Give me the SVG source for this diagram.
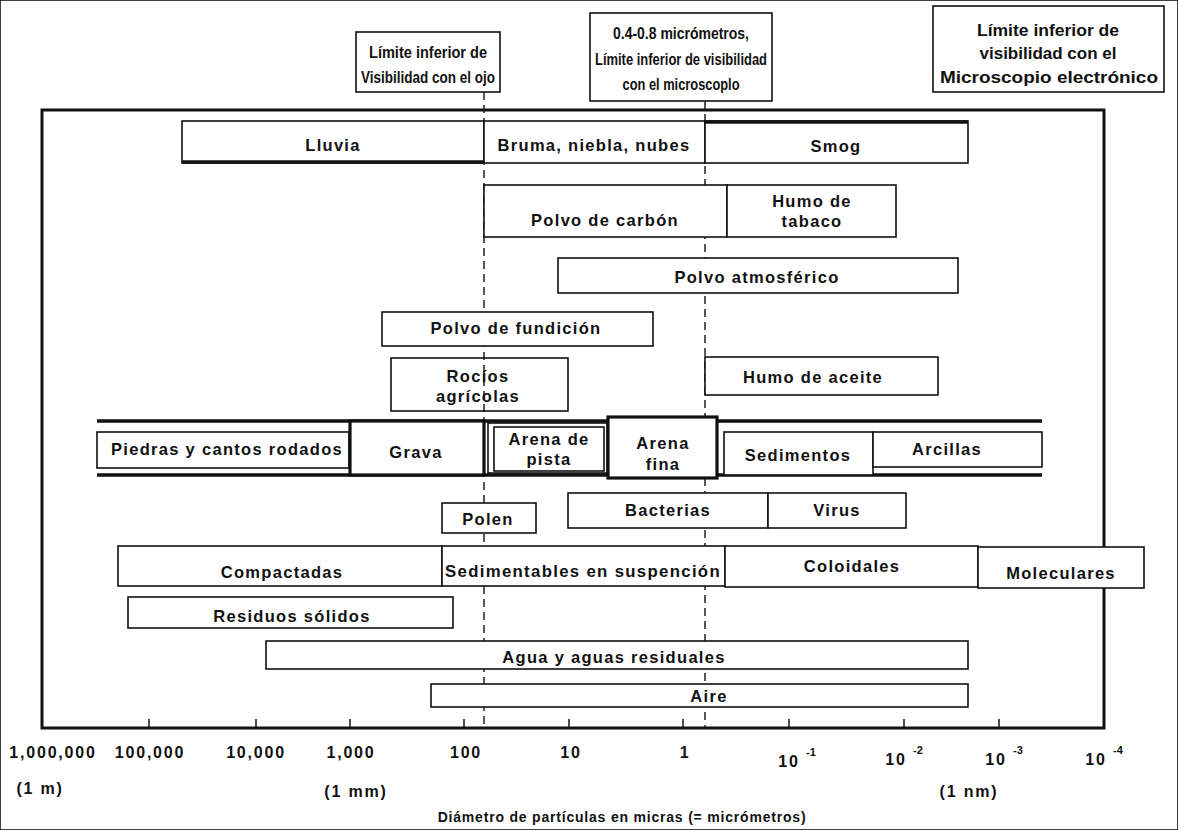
<svg xmlns="http://www.w3.org/2000/svg" width="1178" height="830" viewBox="0 0 1178 830">
<style>
text{font-family:"Liberation Sans",Arial,sans-serif;font-weight:bold;font-size:16.5px;letter-spacing:1.3px;fill:#111;text-anchor:middle}
.tb text{font-size:16px;letter-spacing:0}
.ax{font-size:16px;letter-spacing:1.8px}
.sup{font-size:11px;letter-spacing:0}
.cap{font-size:14px;letter-spacing:0.8px}
rect{fill:#fff;stroke:#111;stroke-width:1.6}
.thick{stroke-width:3.2}
.nofill{fill:none}
.dash{stroke:#111;stroke-width:1.4;stroke-dasharray:8 5;fill:none}
.axis{stroke:#111;stroke-width:3;fill:none}
.tick{stroke:#111;stroke-width:1.5}
.bandline{stroke:#111;stroke-width:3.5}
</style>
<rect width="1178" height="830" fill="#fff" stroke="none"/>
<g id="connectors">
<rect id="frame" x="42" y="110" width="1062" height="618" class="axis"/>
<line class="dash" x1="484" y1="92" x2="484" y2="728"/>
<line class="dash" x1="705" y1="101" x2="705" y2="728"/>
<line class="bandline" x1="97" y1="421" x2="1042" y2="421"/>
<line class="bandline" x1="97" y1="475" x2="1042" y2="475"/>
<g class="tick">
<line x1="149" y1="728" x2="149" y2="719"/><line x1="256" y1="728" x2="256" y2="719"/>
<line x1="350" y1="728" x2="350" y2="719"/><line x1="464" y1="728" x2="464" y2="719"/>
<line x1="569" y1="728" x2="569" y2="719"/><line x1="683" y1="728" x2="683" y2="719"/>
<line x1="789" y1="728" x2="789" y2="719"/><line x1="904" y1="728" x2="904" y2="719"/>
<line x1="999" y1="728" x2="999" y2="719"/>
</g>
</g>
<g class="tb">
<g id="lim-ojo"><rect x="356" y="32" width="144" height="60"/><text x="428" y="58" textLength="118" lengthAdjust="spacingAndGlyphs">Límite inferior de</text><text x="428" y="83" textLength="134" lengthAdjust="spacingAndGlyphs">Visibilidad con el ojo</text></g>
<g id="lim-micro"><rect x="590" y="13" width="182" height="88"/><text x="681" y="39" textLength="136" lengthAdjust="spacingAndGlyphs">0.4-0.8 micrómetros,</text><text x="681" y="65" textLength="172" lengthAdjust="spacingAndGlyphs">Límite inferior de visibilidad</text><text x="681" y="90" textLength="117" lengthAdjust="spacingAndGlyphs">con el microscoplo</text></g>
<g id="lim-elec"><rect x="933" y="6" width="231" height="86"/><text x="1048" y="36" textLength="142" lengthAdjust="spacingAndGlyphs">Límite inferior de</text><text x="1048" y="59" textLength="137" lengthAdjust="spacingAndGlyphs">visibilidad con el</text><text x="1049" y="83" textLength="218" lengthAdjust="spacingAndGlyphs">Microscopio electrónico</text></g>
</g>
<g id="lluvia"><rect x="182" y="121" width="302" height="42"/><text x="333" y="151">Lluvia</text></g>
<g id="bruma"><rect x="484" y="121" width="221" height="42"/><text x="594" y="151">Bruma, niebla, nubes</text></g>
<g id="smog"><rect x="705" y="121" width="263" height="42"/><line x1="705" y1="122" x2="968" y2="122" class="bandline"/><text x="836" y="152">Smog</text></g>
<line x1="182" y1="162" x2="484" y2="162" class="bandline"/>
<g id="carbon"><rect x="484" y="185" width="243" height="52"/><text x="605" y="226">Polvo de carbón</text></g>
<g id="tabaco"><rect x="727" y="185" width="169" height="52"/><text x="812" y="207">Humo de</text><text x="812" y="227">tabaco</text></g>
<g id="atmos"><rect x="558" y="258" width="400" height="35"/><text x="757" y="283">Polvo atmosférico</text></g>
<g id="fundicion"><rect x="382" y="312" width="271" height="34"/><text x="516" y="334">Polvo de fundición</text></g>
<g id="rocios"><rect x="391" y="358" width="177" height="53" class="nofill"/><text x="478" y="382">Rocíos</text><text x="478" y="402">agrícolas</text></g>
<g id="aceite"><rect x="705" y="357" width="233" height="38"/><text x="813" y="383">Humo de aceite</text></g>
<g id="piedras"><rect x="97" y="432" width="252" height="36"/><text x="227" y="455">Piedras y cantos rodados</text></g>
<g id="grava"><rect x="350" y="421" width="134" height="54" class="thick"/><text x="416" y="458">Grava</text></g>
<g id="arena-pista"><rect x="488" y="423" width="119" height="50"/><rect x="494" y="427" width="110" height="44"/><text x="549" y="445">Arena de</text><text x="549" y="465">pista</text></g>
<g id="arena-fina"><rect x="608" y="417" width="109" height="61" class="thick"/><text x="663" y="449">Arena</text><text x="663" y="470">fina</text></g>
<g id="sedimentos"><rect x="724" y="432" width="149" height="43"/><text x="798" y="461">Sedimentos</text></g>
<g id="arcillas"><rect x="873" y="432" width="169" height="35"/><text x="947" y="455">Arcillas</text></g>
<g id="polen"><rect x="442" y="503" width="94" height="30"/><text x="488" y="525">Polen</text></g>
<g id="bacterias"><rect x="568" y="493" width="200" height="35"/><text x="668" y="516">Bacterias</text></g>
<g id="virus"><rect x="768" y="493" width="138" height="35"/><text x="837" y="516">Virus</text></g>
<g id="compactadas"><rect x="118" y="546" width="324" height="40"/><text x="282" y="578">Compactadas</text></g>
<g id="sedimentables"><rect x="442" y="546" width="283" height="40"/><text x="583" y="577" textLength="276" lengthAdjust="spacingAndGlyphs">Sedimentables en suspención</text></g>
<g id="coloidales"><rect x="725" y="546" width="253" height="41"/><text x="852" y="572">Coloidales</text></g>
<g id="moleculares"><rect x="978" y="547" width="166" height="41"/><text x="1061" y="579">Moleculares</text></g>
<g id="residuos"><rect x="128" y="597" width="325" height="31"/><text x="292" y="622">Residuos sólidos</text></g>
<g id="agua"><rect x="266" y="641" width="702" height="28"/><text x="614" y="663">Agua y aguas residuales</text></g>
<g id="aire"><rect x="431" y="684" width="537" height="23"/><text x="709" y="702">Aire</text></g>
<g id="axis-labels" class="ax">
<text class="ax" x="53" y="758">1,000,000</text>
<text class="ax" x="150" y="758">100,000</text>
<text class="ax" x="256" y="758">10,000</text>
<text class="ax" x="351" y="758">1,000</text>
<text class="ax" x="466" y="758">100</text>
<text class="ax" x="571" y="758">10</text>
<text class="ax" x="685" y="758">1</text>
<text class="ax" x="789" y="767">10</text><text class="sup" x="811" y="756">-1</text>
<text class="ax" x="896" y="765">10</text><text class="sup" x="918" y="754">-2</text>
<text class="ax" x="996" y="765">10</text><text class="sup" x="1018" y="754">-3</text>
<text class="ax" x="1096" y="765">10</text><text class="sup" x="1118" y="754">-4</text>
<text class="ax" x="40" y="794">(1 m)</text>
<text class="ax" x="356" y="797">(1 mm)</text>
<text class="ax" x="969" y="797">(1 nm)</text>
<text class="cap" x="622" y="822">Diámetro de partículas en micras (= micrómetros)</text>
</g>
</svg>
